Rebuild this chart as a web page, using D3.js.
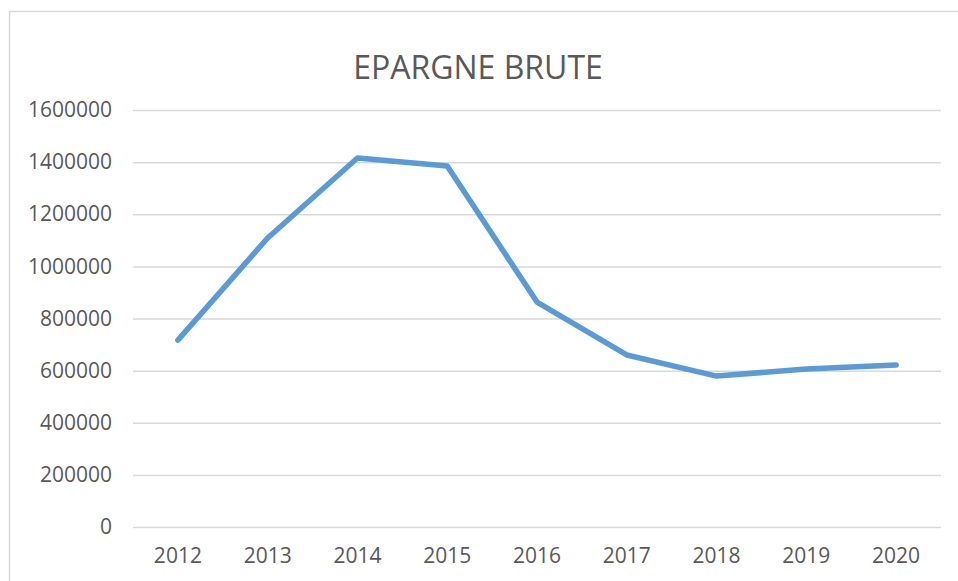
<!DOCTYPE html>
<meta charset="utf-8">
<style>
body { margin: 0; background: #fff; }
svg { display: block; font-family: "Open Sans", "Noto Sans", sans-serif; }
</style>
<svg width="958" height="581"></svg>
<script src="https://cdn.jsdelivr.net/npm/d3@7/dist/d3.min.js"></script>
<script>

// data
var years = ["2012", "2013", "2014", "2015", "2016", "2017", "2018", "2019", "2020"];
var epargne = [717000, 1109000, 1416000, 1385000, 863000, 660000, 579000, 606000, 622000];
var yTicks = [0, 200000, 400000, 600000, 800000, 1000000, 1200000, 1400000, 1600000];
var title = "EPARGNE BRUTE";

var svg = d3.select("svg"),
    margin = {top: 110, right: 17, bottom: 54, left: 133},
    width = +svg.attr("width") - margin.left - margin.right,
    height = +svg.attr("height") - margin.top - margin.bottom;

// chart frame (runs off the right and bottom edges)
svg.append("rect")
    .attr("x", 9.5)
    .attr("y", 11.5)
    .attr("width", 1000)
    .attr("height", 1000)
    .attr("fill", "none")
    .attr("stroke", "#d9d9d9")
    .attr("stroke-width", 1.5);

svg.append("text")
    .attr("x", 478)
    .attr("y", 79)
    .attr("text-anchor", "middle")
    .attr("fill", "#595959")
    .style("font-size", "32px")
    .text(title);

var g = svg.append("g").attr("transform", "translate(" + margin.left + "," + margin.top + ")");

var x = d3.scaleBand().domain(years).range([0, width]);
var y = d3.scaleLinear().domain([0, 1600000]).range([height, 0]);

var yAxis = g.append("g")
    .call(d3.axisLeft(y).tickValues(yTicks).tickFormat(d3.format("d"))
        .tickSize(-width).tickPadding(21));
yAxis.attr("font-family", null).attr("font-size", null);
yAxis.select(".domain").remove();
yAxis.selectAll("line").attr("stroke", "#d9d9d9").attr("stroke-width", 1.5);
yAxis.selectAll("text").attr("fill", "#595959").style("font-size", "21px");

var xAxis = g.append("g")
    .attr("transform", "translate(0," + height + ")")
    .call(d3.axisBottom(x).tickSize(0).tickPadding(21));
xAxis.attr("font-family", null).attr("font-size", null);
xAxis.select(".domain").remove();
xAxis.selectAll("text").attr("fill", "#595959").style("font-size", "21px");

var line = d3.line()
    .x(function(d, i) { return x(years[i]) + x.bandwidth() / 2; })
    .y(function(d) { return y(d); });

g.append("path")
    .datum(epargne)
    .attr("fill", "none")
    .attr("stroke", "#5b9bd5")
    .attr("stroke-width", 5.5)
    .attr("stroke-linejoin", "round")
    .attr("stroke-linecap", "round")
    .attr("d", line);

</script>
